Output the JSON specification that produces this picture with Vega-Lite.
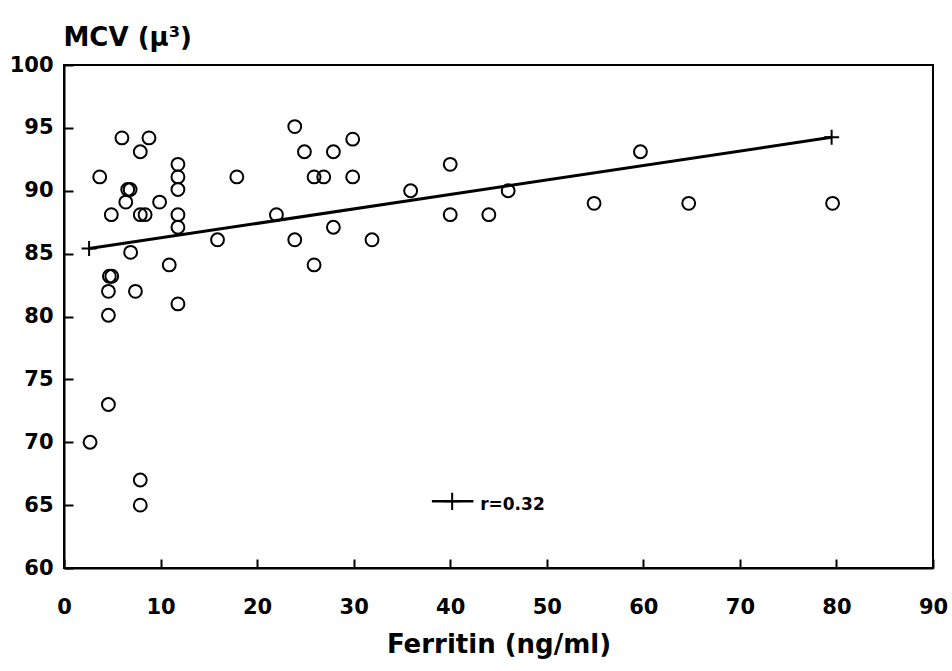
{
  "$schema": "https://vega.github.io/schema/vega-lite/v6.json",
  "autosize": "none",
  "width": 869,
  "height": 503,
  "padding": {"left": 64, "top": 65, "right": 19, "bottom": 103},
  "background": "white",
  "config": {
    "view": {"stroke": "black", "strokeWidth": 2},
    "axis": {
      "grid": false,
      "domainColor": "black",
      "domainWidth": 2,
      "tickColor": "black",
      "tickWidth": 2,
      "labelColor": "black",
      "labelFont": "DejaVu Sans",
      "labelFontWeight": "bold",
      "labelFontSize": 21,
      "labelFlush": false,
      "labelOverlap": false,
      "titleColor": "black",
      "titleFont": "DejaVu Sans",
      "titleFontWeight": "bold",
      "titleFontSize": 26
    }
  },
  "datasets": {
    "obs": [
      {"ferritin": 2.7, "mcv": 70},
      {"ferritin": 3.7, "mcv": 91.1},
      {"ferritin": 4.6, "mcv": 73},
      {"ferritin": 4.6, "mcv": 80.1},
      {"ferritin": 4.6, "mcv": 82},
      {"ferritin": 4.7, "mcv": 83.2},
      {"ferritin": 4.95, "mcv": 83.2},
      {"ferritin": 4.9, "mcv": 88.1},
      {"ferritin": 6.0, "mcv": 94.2},
      {"ferritin": 6.4, "mcv": 89.1},
      {"ferritin": 6.6, "mcv": 90.1},
      {"ferritin": 6.85, "mcv": 90.1},
      {"ferritin": 6.9, "mcv": 85.1},
      {"ferritin": 7.4, "mcv": 82},
      {"ferritin": 7.9, "mcv": 93.1},
      {"ferritin": 7.9, "mcv": 88.1},
      {"ferritin": 8.4, "mcv": 88.1},
      {"ferritin": 7.9, "mcv": 67},
      {"ferritin": 7.9, "mcv": 65},
      {"ferritin": 8.8, "mcv": 94.2},
      {"ferritin": 9.9, "mcv": 89.1},
      {"ferritin": 10.9, "mcv": 84.1},
      {"ferritin": 11.8, "mcv": 92.1},
      {"ferritin": 11.8, "mcv": 91.1},
      {"ferritin": 11.8, "mcv": 90.1},
      {"ferritin": 11.8, "mcv": 88.1},
      {"ferritin": 11.8, "mcv": 87.1},
      {"ferritin": 11.8, "mcv": 81},
      {"ferritin": 15.9, "mcv": 86.1},
      {"ferritin": 17.9, "mcv": 91.1},
      {"ferritin": 22.0, "mcv": 88.1},
      {"ferritin": 23.9, "mcv": 95.1},
      {"ferritin": 23.9, "mcv": 86.1},
      {"ferritin": 24.9, "mcv": 93.1},
      {"ferritin": 25.9, "mcv": 91.1},
      {"ferritin": 25.9, "mcv": 84.1},
      {"ferritin": 26.9, "mcv": 91.1},
      {"ferritin": 27.9, "mcv": 93.1},
      {"ferritin": 27.9, "mcv": 87.1},
      {"ferritin": 29.9, "mcv": 94.1},
      {"ferritin": 29.9, "mcv": 91.1},
      {"ferritin": 31.9, "mcv": 86.1},
      {"ferritin": 35.9, "mcv": 90},
      {"ferritin": 40.0, "mcv": 92.1},
      {"ferritin": 40.0, "mcv": 88.1},
      {"ferritin": 44.0, "mcv": 88.1},
      {"ferritin": 46.0, "mcv": 90},
      {"ferritin": 54.9, "mcv": 89},
      {"ferritin": 59.7, "mcv": 93.1},
      {"ferritin": 64.7, "mcv": 89},
      {"ferritin": 79.6, "mcv": 89}
    ],
    "fit": [
      {"ferritin": 2.6, "mcv": 85.4},
      {"ferritin": 79.5, "mcv": 94.25}
    ],
    "keyline": [
      {"ferritin": 38.1, "mcv": 65.3},
      {"ferritin": 42.4, "mcv": 65.3}
    ],
    "keyplus": [
      {"ferritin": 40.2, "mcv": 65.3}
    ],
    "keytext": [
      {"ferritin": 43.1, "mcv": 65.0, "label": "r=0.32"}
    ]
  },
  "encoding": {
    "x": {
      "field": "ferritin",
      "type": "quantitative",
      "scale": {"domain": [0, 90], "nice": false, "zero": false},
      "axis": {
        "values": [0, 10, 20, 30, 40, 50, 60, 70, 80, 90],
        "tickSize": -9,
        "labelPadding": 37,
        "title": "Ferritin (ng/ml)",
        "titleBaseline": "alphabetic",
        "titleY": 84
      }
    },
    "y": {
      "field": "mcv",
      "type": "quantitative",
      "scale": {"domain": [60, 100], "nice": false, "zero": false},
      "axis": {
        "values": [60, 65, 70, 75, 80, 85, 90, 95, 100],
        "tickSize": -9,
        "labelPadding": 20,
        "title": "MCV (μ³)",
        "titleAngle": 0,
        "titleAlign": "left",
        "titleBaseline": "alphabetic",
        "titleX": -1,
        "titleY": -20
      }
    }
  },
  "layer": [
    {
      "data": {"name": "obs"},
      "mark": {"type": "point", "shape": "circle", "filled": false, "stroke": "black", "strokeWidth": 2, "size": 165, "opacity": 1}
    },
    {
      "data": {"name": "fit"},
      "mark": {"type": "line", "color": "black", "strokeWidth": 3}
    },
    {
      "data": {"name": "fit"},
      "mark": {"type": "point", "shape": "M-1,0L1,0M0,-1L0,1", "filled": false, "stroke": "black", "strokeWidth": 2, "size": 225, "opacity": 1}
    },
    {
      "data": {"name": "keyline"},
      "mark": {"type": "line", "color": "black", "strokeWidth": 2.5}
    },
    {
      "data": {"name": "keyplus"},
      "mark": {"type": "point", "shape": "M-1,0L1,0M0,-1L0,1", "filled": false, "stroke": "black", "strokeWidth": 2, "size": 300, "opacity": 1}
    },
    {
      "data": {"name": "keytext"},
      "mark": {"type": "text", "align": "left", "baseline": "middle", "font": "DejaVu Sans", "fontWeight": "bold", "fontSize": 17, "color": "black"},
      "encoding": {"text": {"field": "label", "type": "nominal"}}
    }
  ]
}
